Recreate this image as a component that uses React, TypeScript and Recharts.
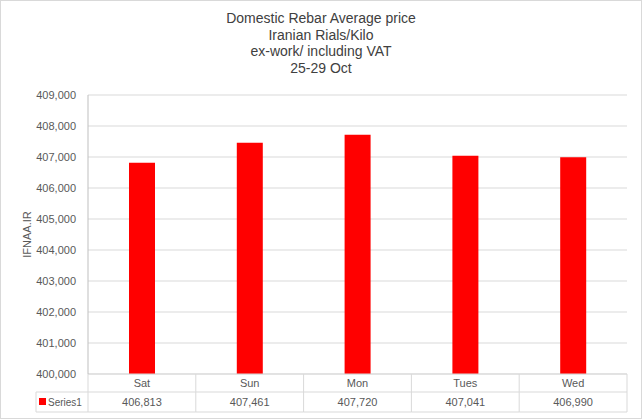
import { BarChart, Bar, XAxis, YAxis, CartesianGrid } from "recharts";

const days = ["Sat", "Sun", "Mon", "Tues", "Wed"];
const prices = [406813, 407461, 407720, 407041, 406990];
const yTicks = [400000, 401000, 402000, 403000, 404000, 405000, 406000, 407000, 408000, 409000];
const seriesName = "Series1";
const titleLines = [
  "Domestic Rebar Average price",
  "Iranian Rials/Kilo",
  "ex-work/ including VAT",
  "25-29 Oct",
];

const data = days.map((day, i) => ({ day, price: prices[i] }));

const W = 642;
const H = 419;
const TABLE_TOP = 374;
const ROW_LINE = 392;
const TABLE_BOTTOM = 412;
const LEGEND_LEFT = 36;
const LINE = "#d9d9d9";
const TEXT = "#595959";
const FONT = "'Liberation Sans', Arial, sans-serif";

const fmt = (v: number) => v.toLocaleString("en-US");

function TableTick(props: any) {
  const { x, payload, index } = props;
  const half = payload && payload.offset ? payload.offset : 53.9;
  const left = x - half;
  const right = x + half;
  return (
    <g>
      <line x1={right} y1={TABLE_TOP} x2={right} y2={TABLE_BOTTOM} stroke={LINE} />
      <line x1={left} y1={ROW_LINE} x2={right} y2={ROW_LINE} stroke={LINE} />
      <line x1={left} y1={TABLE_BOTTOM} x2={right} y2={TABLE_BOTTOM} stroke={LINE} />
      {index === 0 && (
        <g>
          <line x1={left} y1={TABLE_TOP} x2={left} y2={TABLE_BOTTOM} stroke={LINE} />
          <line x1={LEGEND_LEFT} y1={ROW_LINE} x2={left} y2={ROW_LINE} stroke={LINE} />
          <line x1={LEGEND_LEFT} y1={TABLE_BOTTOM} x2={left} y2={TABLE_BOTTOM} stroke={LINE} />
          <line x1={LEGEND_LEFT} y1={ROW_LINE} x2={LEGEND_LEFT} y2={TABLE_BOTTOM} stroke={LINE} />
          <rect x={LEGEND_LEFT + 3} y={398} width={7} height={7} fill="#ff0000" />
          <text
            x={LEGEND_LEFT + 12}
            y={402}
            dominantBaseline="central"
            fontSize={10}
            fill={TEXT}
            fontFamily={FONT}
          >
            {seriesName}
          </text>
        </g>
      )}
      <text
        x={x}
        y={383}
        textAnchor="middle"
        dominantBaseline="central"
        fontSize={11}
        fill={TEXT}
        fontFamily={FONT}
      >
        {payload.value}
      </text>
      <text
        x={x}
        y={402}
        textAnchor="middle"
        dominantBaseline="central"
        fontSize={11}
        fill={TEXT}
        fontFamily={FONT}
      >
        {fmt(prices[index])}
      </text>
    </g>
  );
}

export default function App() {
  return (
    <div
      style={{
        position: "absolute",
        left: 0,
        top: 0,
        width: W,
        height: H,
        boxSizing: "border-box",
        border: "1px solid #d9d9d9",
        background: "#fff",
      }}
    >
      <div style={{ position: "absolute", left: -1, top: -1 }}>
        <BarChart
          width={W}
          height={H}
          data={data}
          margin={{ top: 95, right: 15, left: 0, bottom: 7 }}
        >
          <CartesianGrid vertical={false} stroke={LINE} />
          <XAxis
            dataKey="day"
            height={38}
            interval={0}
            tickLine={false}
            axisLine={{ stroke: LINE }}
            tick={<TableTick />}
          />
          <YAxis
            width={88}
            domain={[400000, 409000]}
            ticks={yTicks}
            interval={0}
            tickFormatter={fmt}
            tickLine={false}
            tickSize={0}
            tickMargin={12}
            axisLine={{ stroke: "#bfbfbf" }}
            tick={{ fontSize: 11, fill: TEXT, fontFamily: FONT }}
            label={{
              value: "IFNAA.IR",
              angle: -90,
              position: "insideLeft",
              offset: 27,
              style: { fontSize: 11, fill: TEXT, fontFamily: FONT, textAnchor: "middle" },
            }}
          />
          <Bar dataKey="price" fill="#ff0000" barSize={26} isAnimationActive={false} />
        </BarChart>
      </div>
      <div
        style={{
          position: "absolute",
          left: -1,
          top: 9,
          width: W,
          textAlign: "center",
          fontFamily: FONT,
          fontSize: 14,
          lineHeight: "16.7px",
          color: "#404040",
        }}
      >
        {titleLines.map((t) => (
          <div key={t}>{t}</div>
        ))}
      </div>
    </div>
  );
}
